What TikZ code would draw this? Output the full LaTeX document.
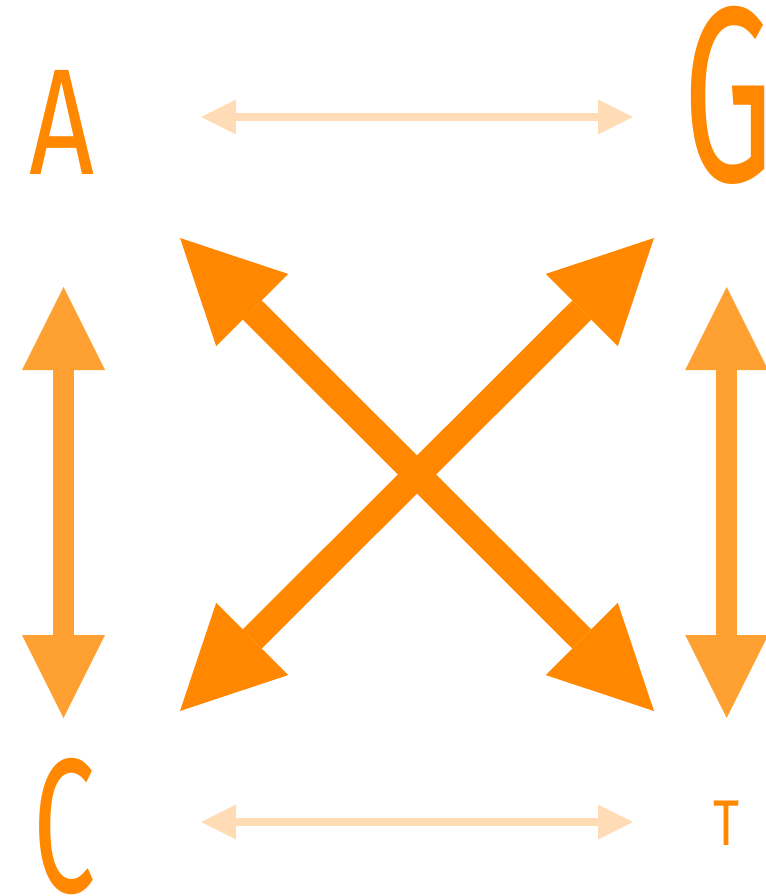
\documentclass[tikz,border=0pt]{standalone}
\usepackage{fontspec}
\newfontfamily\logofont{Fira Sans}
\usetikzlibrary{arrows.meta}
\definecolor{dark}{HTML}{FF8800}
\definecolor{mid}{HTML}{FFA033}
\definecolor{light}{HTML}{FFDCB5}
\tikzset{
  letter/.style={inner sep=0pt, outer sep=0pt, text=dark, font=\logofont, anchor=south west},
  diag/.style={draw=dark, line width=27pt,
    {Triangle[length=102pt,width=102pt,line width=0pt]}-{Triangle[length=102pt,width=102pt,line width=0pt]}},
  vert/.style={draw=mid, line width=21pt,
    {Triangle[length=83pt,width=83pt,line width=0pt]}-{Triangle[length=83pt,width=83pt,line width=0pt]}},
  horiz/.style={draw=light, line width=7.7pt,
    {Triangle[length=35pt,width=35pt,line width=0pt]}-{Triangle[length=35pt,width=35pt,line width=0pt]}},
}
\begin{document}
\begin{tikzpicture}[x=1pt,y=-1pt]
\useasboundingbox (0,0) rectangle (765,896);
% letters
\node[letter] (A) at (30,174) {\resizebox{65pt}{104pt}{A}};
\node[letter] (G) at (683,184.5) {\resizebox{90pt}{175pt}{G}};
\node[letter] (C) at (33,895) {\resizebox{62pt}{134pt}{C}};
\node[letter] (T) at (713,845.5) {\resizebox{26pt}{44.5pt}{T}};
% arrow end points
\coordinate (tl) at (180,238);
\coordinate (tr) at (654,238);
\coordinate (bl) at (180,711);
\coordinate (br) at (654,711);
\coordinate (lt) at (63.5,287);
\coordinate (lb) at (63.5,718);
\coordinate (rt) at (726.7,287);
\coordinate (rb) at (726.7,718);
\coordinate (ht1) at (201,117);
\coordinate (ht2) at (633,117);
\coordinate (hb1) at (201,822);
\coordinate (hb2) at (633,822);
% arrows
\draw[horiz] (ht1) -- (ht2);
\draw[horiz] (hb1) -- (hb2);
\draw[vert] (lt) -- (lb);
\draw[vert] (rt) -- (rb);
\draw[diag] (tl) -- (br);
\draw[diag] (tr) -- (bl);
\end{tikzpicture}
\end{document}
